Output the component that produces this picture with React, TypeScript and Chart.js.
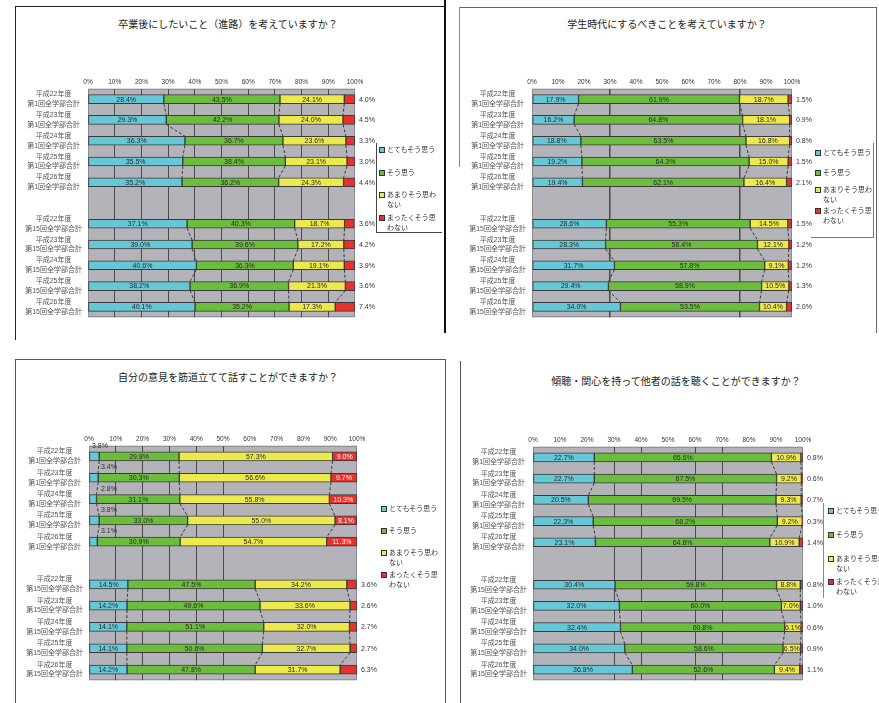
import React, { useEffect, useRef } from 'react';
import { Chart, registerables } from 'chart.js';

Chart.register(...registerables);

const FONT = '"Liberation Sans", "Noto Sans CJK JP", sans-serif';

const SERIES = ['とてもそう思う', 'そう思う', 'あまりそう思わない', 'まったくそう思わない'];
const COLORS = ['#66c8d6', '#6cbc3e', '#ece94c', '#e8312f'];
const YEARS = ['平成22年度', '平成23年度', '平成24年度', '平成25年度', '平成26年度'];
const ROUND_FIRST = '第1回全学部合計';
const ROUND_LAST = '第15回全学部合計';
const CATEGORIES: (string | string[])[] = [
  ...YEARS.map((y) => [y, ROUND_FIRST]),
  '',
  ...YEARS.map((y) => [y, ROUND_LAST]),
];
const X_TICK_STEP = 10;

// Q1 卒業後にしたいこと（進路）を考えていますか？
const Q1_VERY = [28.4, 29.3, 36.3, 35.5, 35.2, null, 37.1, 39.0, 40.6, 38.2, 40.1];
const Q1_YES = [43.5, 42.2, 36.7, 38.4, 36.2, null, 40.3, 39.6, 36.3, 36.9, 35.2];
const Q1_NOTMUCH = [24.1, 24.0, 23.6, 23.1, 24.3, null, 18.7, 17.2, 19.1, 21.3, 17.3];
const Q1_NONE = [4.0, 4.5, 3.3, 3.0, 4.4, null, 3.6, 4.2, 3.9, 3.6, 7.4];

// Q2 学生時代にするべきことを考えていますか？
const Q2_VERY = [17.9, 16.2, 18.8, 19.2, 19.4, null, 28.6, 28.3, 31.7, 29.4, 34.0];
const Q2_YES = [61.9, 64.8, 63.5, 64.3, 62.1, null, 55.3, 58.4, 57.8, 58.9, 53.5];
const Q2_NOTMUCH = [18.7, 18.1, 16.8, 15.0, 16.4, null, 14.5, 12.1, 9.1, 10.5, 10.4];
const Q2_NONE = [1.5, 0.9, 0.8, 1.5, 2.1, null, 1.5, 1.2, 1.2, 1.3, 2.0];

// Q3 自分の意見を筋道立てて話すことができますか？
const Q3_VERY = [3.8, 3.4, 2.8, 3.8, 3.1, null, 14.5, 14.2, 14.1, 14.1, 14.2];
const Q3_YES = [29.8, 30.3, 31.1, 33.0, 30.9, null, 47.5, 49.6, 51.1, 50.6, 47.8];
const Q3_NOTMUCH = [57.3, 56.6, 55.8, 55.0, 54.7, null, 34.2, 33.6, 32.0, 32.7, 31.7];
const Q3_NONE = [9.0, 9.7, 10.3, 8.1, 11.3, null, 3.6, 2.6, 2.7, 2.7, 6.3];

// Q4 傾聴・関心を持って他者の話を聴くことができますか？
const Q4_VERY = [22.7, 22.7, 20.5, 22.3, 23.1, null, 30.4, 32.0, 32.4, 34.0, 36.8];
const Q4_YES = [65.6, 67.5, 69.5, 68.2, 64.6, null, 59.8, 60.0, 60.8, 58.6, 52.6];
const Q4_NOTMUCH = [10.9, 9.2, 9.3, 9.2, 10.9, null, 8.8, 7.0, 6.1, 6.5, 9.4];
const Q4_NONE = [0.8, 0.6, 0.7, 0.3, 1.4, null, 0.8, 1.0, 0.6, 0.9, 1.1];

type Vals = (number | null)[];

type PanelProps = {
  title: string;
  titleX: number;
  titleY: number;
  values: Vals[];
  plot: [number, number, number, number];
  grid: number[];
  gridWidth: number;
  split: boolean;
  legendX: number;
  legendY: number[];
};

const YW = 80;
const XH = 12;
const PR = 34;
const PB = 4;

function Panel(p: PanelProps) {
  const ref = useRef<HTMLCanvasElement>(null);
  const [L, T, R, B] = p.plot;
  const cw = YW + (R - L) + PR;
  const ch = XH + (B - T) + PB;

  useEffect(() => {
    if (!ref.current) return;
    const values = p.values;

    const bgPlugin = {
      id: 'plotBg',
      beforeDraw(chart: any) {
        const { ctx, chartArea: a } = chart;
        ctx.save();
        ctx.fillStyle = '#b3b3b9';
        ctx.fillRect(a.left, a.top, a.right - a.left, a.bottom - a.top);
        ctx.strokeStyle = '#8a8a90';
        ctx.lineWidth = 1;
        ctx.strokeRect(a.left + 0.5, a.top + 0.5, a.right - a.left - 1, a.bottom - a.top - 1);
        ctx.restore();
      },
    };

    const seriesLines = {
      id: 'seriesLines',
      afterDatasetsDraw(chart: any) {
        const { ctx } = chart;
        ctx.save();
        ctx.strokeStyle = '#3a3a3a';
        ctx.lineWidth = 1;
        ctx.setLineDash([3, 2]);
        for (let k = 0; k < 3; k++) {
          const meta = chart.getDatasetMeta(k);
          for (let i = 0; i < meta.data.length - 1; i++) {
            if (values[k][i] == null || values[k][i + 1] == null) continue;
            const a = meta.data[i];
            const b = meta.data[i + 1];
            const ha = a.height || 9;
            const hb = b.height || 9;
            ctx.beginPath();
            ctx.moveTo(a.x, a.y + ha / 2);
            ctx.lineTo(b.x, b.y - hb / 2);
            ctx.stroke();
          }
        }
        ctx.restore();
      },
    };

    const labels = {
      id: 'segLabels',
      afterDatasetsDraw(chart: any) {
        const { ctx, chartArea } = chart;
        ctx.save();
        ctx.font = `7px ${FONT}`;
        ctx.textBaseline = 'middle';
        for (let k = 0; k < 4; k++) {
          const meta = chart.getDatasetMeta(k);
          meta.data.forEach((bar: any, i: number) => {
            const v = values[k][i];
            if (v == null) return;
            const text = v.toFixed(1) + '%';
            const topGroup = i < 5;
            if (k === 3) {
              if (p.split && topGroup) {
                ctx.fillStyle = '#ffffff';
                ctx.textAlign = 'center';
                ctx.fillText(text, (bar.x + bar.base) / 2, bar.y + 0.5);
              } else {
                ctx.fillStyle = '#333333';
                ctx.textAlign = 'left';
                ctx.fillText(text, chartArea.right + 4, bar.y + 0.5);
              }
            } else if (k === 0 && p.split && topGroup) {
              ctx.fillStyle = '#333333';
              ctx.textAlign = 'left';
              ctx.fillText(text, chartArea.left + (i === 0 ? 3 : 12), bar.y - 10.5);
            } else {
              ctx.fillStyle = '#2a2a2a';
              ctx.textAlign = 'center';
              ctx.fillText(text, (bar.x + bar.base) / 2, bar.y + 0.5);
            }
          });
        }
        ctx.restore();
      },
    };

    const chart = new Chart(ref.current, {
      type: 'bar',
      data: {
        labels: CATEGORIES as any,
        datasets: SERIES.map((s, k) => ({
          label: s,
          data: values[k] as any,
          backgroundColor: COLORS[k],
          borderColor: '#3a3a3a',
          borderWidth: 1,
          borderSkipped: false,
          barThickness: 9,
        })),
      },
      options: {
        indexAxis: 'y',
        responsive: false,
        animation: false,
        layout: { padding: { left: 0, top: 0, right: PR, bottom: PB } },
        plugins: {
          legend: { display: false },
          tooltip: { enabled: false },
          title: { display: false },
        },
        scales: {
          x: {
            position: 'top',
            stacked: true,
            min: 0,
            max: 100,
            ticks: {
              stepSize: X_TICK_STEP,
              callback: (v: any) => v + '%',
              font: { size: 6.5, family: FONT },
              color: '#333333',
              padding: 3,
              maxRotation: 0,
              autoSkip: false,
            },
            grid: {
              color: (ctx: any) =>
                ctx.tick && p.grid.includes(ctx.tick.value) ? '#4a4a4a' : 'rgba(0,0,0,0)',
              lineWidth: p.gridWidth,
              drawTicks: false,
            },
            border: { display: false },
            afterFit: (s: any) => {
              s.height = XH;
            },
          },
          y: {
            stacked: true,
            ticks: {
              font: { size: 7, family: FONT, lineHeight: 1.4 },
              color: '#555555',
              crossAlign: 'center',
              padding: 6,
              autoSkip: false,
            },
            grid: { display: false, drawTicks: false },
            border: { display: false },
            afterFit: (s: any) => {
              s.width = YW;
            },
          },
        },
      } as any,
      plugins: [bgPlugin, seriesLines, labels],
    });
    return () => chart.destroy();
  }, []);

  return (
    <>
      <canvas
        ref={ref}
        width={cw}
        height={ch}
        style={{ position: 'absolute', left: L - YW, top: T - XH, width: cw, height: ch }}
      />
      <div
        style={{
          position: 'absolute',
          left: p.titleX,
          top: p.titleY - 7,
          transform: 'translateX(-50%)',
          fontSize: 10,
          lineHeight: '14px',
          whiteSpace: 'nowrap',
          color: '#222',
          fontFamily: FONT,
        }}
      >
        {p.title}
      </div>
      {SERIES.map((s, k) => (
        <div
          key={k}
          style={{
            position: 'absolute',
            left: p.legendX,
            top: p.legendY[k] - 5,
            display: 'flex',
            alignItems: 'flex-start',
            fontSize: 7,
            lineHeight: '10px',
            color: '#333',
            fontFamily: FONT,
          }}
        >
          <span
            style={{
              width: 4,
              height: 4,
              border: '1px solid #333',
              background: COLORS[k],
              marginTop: 2,
              marginRight: 2,
              flex: 'none',
            }}
          />
          <span style={{ width: 51, wordBreak: 'break-all' }}>{s}</span>
        </div>
      ))}
    </>
  );
}

function Line({ x, y, w, h, c }: { x: number; y: number; w: number; h: number; c: string }) {
  return <div style={{ position: 'absolute', left: x, top: y, width: w, height: h, background: c }} />;
}

export default function App() {
  return (
    <div
      style={{
        position: 'absolute',
        left: 0,
        top: 0,
        width: 879,
        height: 703,
        overflow: 'hidden',
        background: '#fff',
      }}
    >
      {/* frames */}
      <Line x={15} y={6} w={430} h={1} c="#222" />
      <Line x={15} y={6} w={1} h={334} c="#222" />
      <Line x={444} y={0} w={2} h={333} c="#111" />
      <Line x={459} y={7} w={418} h={1} c="#666" />
      <Line x={459} y={7} w={1} h={160} c="#888" />
      <Line x={876} y={7} w={1} h={326} c="#666" />
      <Line x={15} y={359} w={431} h={1} c="#555" />
      <Line x={15} y={359} w={1} h={344} c="#555" />
      <Line x={445} y={359} w={1} h={344} c="#555" />
      <Line x={460} y={361} w={1} h={342} c="#555" />
      {/* legend boxes */}
      <Line x={376} y={143} w={1} h={90} c="#444" />
      <Line x={376} y={232} w={66} h={1} c="#444" />
      <Line x={873} y={143} w={1} h={95} c="#777" />
      <Line x={811} y={237} w={63} h={1} c="#777" />
      <Line x={823} y={503} w={1} h={95} c="#888" />

      <Panel
        title="卒業後にしたいこと（進路）を考えていますか？"
        titleX={228}
        titleY={25}
        values={[Q1_VERY, Q1_YES, Q1_NOTMUCH, Q1_NONE]}
        plot={[88, 85, 355, 329]}
        grid={[10, 20, 30, 40, 50, 60, 70, 80, 90]}
        gridWidth={1}
        split={false}
        legendX={379}
        legendY={[150, 173, 195, 218]}
      />
      <Panel
        title="学生時代にするべきことを考えていますか？"
        titleX={667}
        titleY={25}
        values={[Q2_VERY, Q2_YES, Q2_NOTMUCH, Q2_NONE]}
        plot={[532, 85, 792, 329]}
        grid={[30, 80]}
        gridWidth={1.5}
        split={false}
        legendX={815}
        legendY={[153, 173, 190, 211]}
      />
      <Panel
        title="自分の意見を筋道立てて話すことができますか？"
        titleX={228}
        titleY={378}
        values={[Q3_VERY, Q3_YES, Q3_NOTMUCH, Q3_NONE]}
        plot={[89, 442, 357, 692]}
        grid={[10, 20, 30, 40, 50]}
        gridWidth={1}
        split={true}
        legendX={381}
        legendY={[509, 531, 553, 575]}
      />
      <Panel
        title="傾聴・関心を持って他者の話を聴くことができますか？"
        titleX={676}
        titleY={382}
        values={[Q4_VERY, Q4_YES, Q4_NOTMUCH, Q4_NONE]}
        plot={[533, 443, 803, 692]}
        grid={[30, 40, 60, 70]}
        gridWidth={1}
        split={false}
        legendX={828}
        legendY={[511, 535, 559, 582]}
      />
    </div>
  );
}
